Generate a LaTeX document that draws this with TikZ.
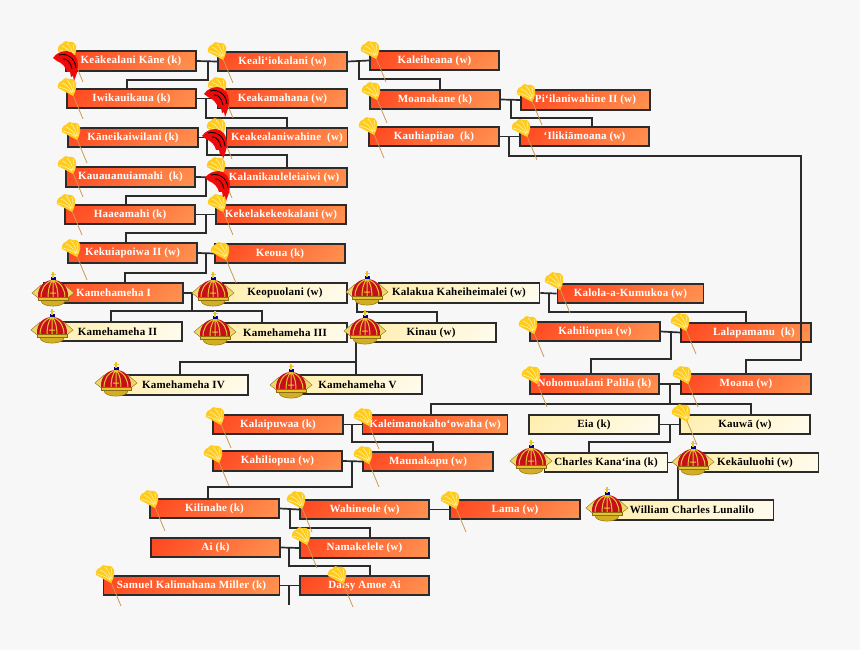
\documentclass[tikz,border=0pt]{standalone}
\usepackage{fontspec}
\setmainfont{Liberation Serif}
\newfontfamily\boxfont[LetterSpace=2]{Liberation Serif}
\usepackage{xcolor}
\definecolor{pagebg}{HTML}{F7F7F7}
\definecolor{linkdark}{HTML}{2B2B2B}
\definecolor{boxred}{HTML}{FF3414}
\definecolor{boxorange}{HTML}{FFA55C}
\definecolor{boxcream}{HTML}{FFEB9E}
\definecolor{feather}{HTML}{FFCB1E}
\definecolor{featherline}{HTML}{FFF0A0}
\definecolor{staff}{HTML}{C99A52}
\definecolor{helmetred}{HTML}{EE0A0A}
\definecolor{crowngold}{HTML}{E7C42C}
\definecolor{crowndark}{HTML}{8E6C10}
\definecolor{crownred}{HTML}{C5101C}
\pgfdeclareverticalshading{redfade}{100bp}{color(0bp)=(boxorange); color(100bp)=(boxred)}
\pgfdeclareverticalshading{creamfade}{100bp}{color(0bp)=(white); color(100bp)=(boxcream)}
\tikzset{
  person/.style={draw=linkdark, line width=1.7pt, minimum width=129.5pt, minimum height=19.5pt,
                 inner sep=0pt, font=\boxfont\fontsize{11}{12}\bfseries\selectfont},
  redbox/.style={person, shade, shading=redfade, shading angle=45, text=white},
  creambox/.style={person, shade, shading=creamfade, shading angle=45, text=black},
  link/.style={draw=linkdark, line width=1.7pt},
  kahili/.pic={
    \draw[staff, line width=0.8pt] (0,0) -- (10,24);
    \fill[feather] (0,1) -- (-15,-7) .. controls (-16,-11) and (-13,-14) .. (-11,-14)
      .. controls (-9,-17) and (-6,-18) .. (-4,-16) .. controls (-1,-17) and (2,-15) .. (3,-12)
      .. controls (4,-9) and (3,-6) .. (2,-3) -- cycle;
    \draw[featherline, line width=0.6pt] (-1,-2) .. controls (-6,-6) and (-10,-7) .. (-14,-8)
      (-1,-3) .. controls (-4,-8) and (-8,-11) .. (-11,-12)
      (0,-3) .. controls (-1,-8) and (-3,-12) .. (-6,-15)
      (1,-3) .. controls (1,-7) and (1,-10) .. (0,-14);
  },
  helmet/.pic={
    \fill[helmetred] (0,7) .. controls (3,2) and (9,0) .. (14,0) .. controls (21,1) and (25,7) .. (25,14)
      .. controls (25,20) and (23,25) .. (21,30) -- (20,25) -- (18,26) -- (17,21) -- (14,21)
      .. controls (13,16) and (9,12) .. (4,10) -- cycle;
    \draw[black, line width=0.8pt] (6,4) .. controls (13,2) and (22,6) .. (23,17)
      (10,8) .. controls (14,7) and (18,12) .. (19,18);
  },
  crown/.pic={
    \draw[crowndark, fill=crowngold!70!white, line width=0.4pt] (-21,0) -- (-12,-8) -- (12,-8) -- (21,0) -- (12,7) -- (-12,7) -- cycle;
    \fill[crownred] (-15,5) .. controls (-16,-8) and (-7,-13) .. (0,-13) .. controls (7,-13) and (16,-8) .. (15,5) -- cycle;
    \draw[crowngold, line width=1pt] (0,-13) -- (0,6)
      (0,-13) .. controls (-4,-9) and (-5,-2) .. (-5,6)
      (0,-13) .. controls (4,-9) and (5,-2) .. (5,6)
      (0,-13) .. controls (-9,-10) and (-12,-3) .. (-12,5)
      (0,-13) .. controls (9,-10) and (12,-3) .. (12,5)
      (-3,0) -- (3,0);
    \draw[crowndark, fill=crowngold, line width=0.4pt] (-15,4) rectangle (15,7.5);
    \draw[crowndark, fill=crowngold!75!crowndark, line width=0.4pt] (-12,7.5) .. controls (-12,15) and (12,15) .. (12,7.5) -- cycle;
    \fill[blue!60!black] (-2.5,-16) rectangle (2.5,-13);
    \draw[crowngold, line width=1.3pt] (0,-21) -- (0,-15) (-2.5,-18.5) -- (2.5,-18.5);
  }
}

\begin{document}
\begin{tikzpicture}[x=1pt, y=-1pt]
  \useasboundingbox (0,0) rectangle (860,650);
  \fill[pagebg] (0,0) rectangle (860,650);

  \node[redbox] (keakealani) at (131,61) {Keākealani Kāne (k)};
  \node[redbox] (kealii) at (282.5,61.5) {Keali‘iokalani (w)};
  \node[redbox] (kaleiheana) at (434.5,60.5) {Kaleiheana (w)};
  \node[redbox] (iwikauikaua) at (131.5,98.5) {Iwikauikaua (k)};
  \node[redbox] (keakamahana) at (282.5,98.5) {Keakamahana (w)};
  \node[redbox] (moanakane) at (435,99.5) {Moanakane (k)};
  \node[redbox] (piilani) at (585.5,100) {Pi‘ilaniwahine II (w)};
  \node[redbox] (kaneikai) at (133,137.5) {Kāneikaiwilani (k)};
  \node[redbox, minimum width=121pt] (keakealaniw) at (287,137.5) {Keakealaniwahine\ \ (w)};
  \node[redbox] (kauhiapiiao) at (434,136.5) {Kauhiapiiao\ \ (k)};
  \node[redbox] (ilikiamoana) at (584.5,136.5) {‘Ilikiāmoana (w)};
  \node[redbox] (kauauanui) at (130.5,177) {Kauauanuiamahi\ \ (k)};
  \node[redbox, minimum width=126pt] (kalanikau) at (284,177.5) {Kalanikauleleiaiwi (w)};
  \node[redbox] (haaeamahi) at (130,214.5) {Haaeamahi (k)};
  \node[redbox] (kekelake) at (281,214.5) {Kekelakekeokalani (w)};
  \node[redbox] (kekuiapoiwa) at (132.5,253) {Kekuiapoiwa II (w)};
  \node[redbox] (keoua) at (280,253.5) {Keoua (k)};

  \node[redbox, minimum width=139pt] (kamehameha1) at (113.5,293) {Kamehameha I};
  \node[creambox, minimum width=124pt] (keopuolani) at (285,293) {Keopuolani (w)};
  \node[creambox, minimum width=161pt] (kalakua) at (459,293) {Kalakua Kaheiheimalei (w)};
  \node[redbox, minimum width=146pt] (kalola) at (630.5,293.5) {Kalola-a-Kumukoa (w)};
  \node[creambox] (kamehameha2) at (117.5,331.5) {Kamehameha II};
  \node[creambox, minimum width=124pt] (kamehameha3) at (285,332.5) {Kamehameha III};
  \node[creambox] (kinau) at (431,332.5) {Kinau (w)};
  \node[redbox] (kahiliopua) at (595,331.5) {Kahiliopua (w)};
  \node[redbox] (lalapamanu) at (746,332.5) {\hspace*{16pt}Lalapamanu\ \ (k)};
  \node[creambox] (kamehameha4) at (183.5,385) {Kamehameha IV};
  \node[creambox] (kamehameha5) at (357.5,384.5) {Kamehameha V};
  \node[redbox] (nohomualani) at (594.5,384) {Nohomualani Palila (k)};
  \node[redbox] (moana) at (746,384) {Moana (w)};

  \node[redbox] (kalaipuwaa) at (278,424.5) {Kalaipuwaa (k)};
  \node[redbox, minimum width=145pt] (kaleimano) at (435,424.5) {Kaleimanokaho‘owaha (w)};
  \node[creambox] (eia) at (594,424.5) {Eia (k)};
  \node[creambox] (kauwa) at (745,424.5) {Kauwā (w)};
  \node[redbox] (kahiliopuab) at (277.5,461) {Kahiliopua (w)};
  \node[redbox] (maunakapu) at (428,461.5) {Maunakapu (w)};
  \node[creambox, minimum width=123pt] (charles) at (606,462.5) {Charles Kana‘ina (k)};
  \node[creambox, minimum width=127pt] (kekauluohi) at (755,462.5) {Kekāuluohi (w)};
  \node[redbox] (kilinahe) at (214.5,508.5) {Kilinahe (k)};
  \node[redbox] (wahineole) at (364.5,509.5) {Wahineole (w)};
  \node[redbox] (lama) at (515,509.5) {Lama (w)};
  \node[creambox, minimum width=163pt] (william) at (692,510) {William Charles Lunalilo};
  \node[redbox] (ai) at (215.5,547.5) {Ai (k)};
  \node[redbox] (namakelele) at (364.5,548) {Namakelele (w)};
  \node[redbox, minimum width=176pt] (samuel) at (191.5,585.5) {Samuel Kalimahana Miller (k)};
  \node[redbox] (daisy) at (364.5,585.5) {Daisy Amoe Ai};

  \draw[link] (keakealani.east) -- (kealii.west);
  \draw[link] (208,0 |- keakealani.east) -- (208,80) -| (127,0 |- iwikauikaua.north);
  \draw[link] (kealii.east) -- (kaleiheana.west);
  \draw[link] (359,0 |- kealii.east) -- (359,79) -| (440,0 |- moanakane.north);
  \draw[link] (iwikauikaua.east) -- (keakamahana.west);
  \draw[link] (206,0 |- iwikauikaua.east) -- (206,118) -| (287,0 |- keakealaniw.north);
  \draw[link] (moanakane.east) -- (piilani.west);
  \draw[link] (511,0 |- moanakane.east) -- (511,118) -| (592,0 |- ilikiamoana.north);
  \draw[link] (kaneikai.east) -- (keakealaniw.west);
  \draw[link] (207,0 |- kaneikai.east) -- (207,155) -| (287,0 |- kalanikau.north);
  \draw[link] (kauhiapiiao.east) -- (ilikiamoana.west);
  \draw[link] (509,0 |- kauhiapiiao.east) -- (509,156) -- (801,156) -- (801,360) -| (746,0 |- moana.north);
  \draw[link] (kauauanui.east) -- (kalanikau.west);
  \draw[link] (206,0 |- kauauanui.east) -- (206,196) -| (126,0 |- haaeamahi.north);
  \draw[link] (haaeamahi.east) -- (kekelake.west);
  \draw[link] (206,0 |- haaeamahi.east) -- (206,233) -| (126,0 |- kekuiapoiwa.north);
  \draw[link] (kekuiapoiwa.east) -- (keoua.west);
  \draw[link] (206,0 |- kekuiapoiwa.east) -- (206,273) -| (125,0 |- kamehameha1.north);
  \draw[link] (kamehameha1.east) -- (keopuolani.west);
  \draw[link] (192,0 |- kamehameha1.east) -- (192,311);
  \draw[link] (111,0 |- kamehameha2.north) |- (262,311) -- (262,0 |- kamehameha3.north);
  \draw[link] (keopuolani.east) -- (kalakua.west);
  \draw[link] (357,0 |- keopuolani.east) -- (357,312) -| (437,0 |- kinau.north);
  \draw[link] (kamehameha3.east) -- (kinau.west);
  \draw[link] (356,0 |- kamehameha3.east) -- (356,0 |- kamehameha5.north);
  \draw[link] (356,362) -| (180,0 |- kamehameha4.north);
  \draw[link] (kalakua.east) -- (kalola.west);
  \draw[link] (549,0 |- kalakua.east) -- (549,312) -| (746,0 |- lalapamanu.north);
  \draw[link] (kahiliopua.east) -- (lalapamanu.west);
  \draw[link] (671,0 |- kahiliopua.east) -- (671,359) -| (591,0 |- nohomualani.north);
  \draw[link] (nohomualani.east) -- (moana.west);
  \draw[link] (670,0 |- nohomualani.east) -- (670,404);
  \draw[link] (431,0 |- kaleimano.north) |- (751,404) -- (751,0 |- kauwa.north);
  \draw[link] (eia.east) -- (kauwa.west);
  \draw[link] (670,0 |- eia.east) -- (670,442) -| (589,0 |- charles.north);
  \draw[link] (charles.east) -- (kekauluohi.west);
  \draw[link] (678,0 |- charles.east) -- (678,0 |- william.north);
  \draw[link] (kalaipuwaa.east) -- (kaleimano.west);
  \draw[link] (352,0 |- kalaipuwaa.east) -- (352,442) -| (433,0 |- maunakapu.north);
  \draw[link] (kahiliopuab.east) -- (maunakapu.west);
  \draw[link] (352,0 |- kahiliopuab.east) -- (352,487) -| (208,0 |- kilinahe.north);
  \draw[link] (kilinahe.east) -- (wahineole.west);
  \draw[link] (290,0 |- kilinahe.east) -- (290,528) -| (370,0 |- namakelele.north);
  \draw[link] (wahineole.east) -- (lama.west);
  \draw[link] (ai.east) -- (namakelele.west);
  \draw[link] (289,0 |- ai.east) -- (289,566) -| (370,0 |- daisy.north);
  \draw[link] (samuel.east) -- (daisy.west);
  \draw[link] (289,0 |- samuel.east) -- (289,605);

  \foreach \kx/\ky in {73/58, 73/95, 77/139, 73/173, 72/211, 77/256, 223/59, 223/94, 222/135, 222/174,
      223/211, 226/259, 376/58, 377/99, 374/134, 532/101, 527/136, 560/289, 534/333, 686/330,
      537/383, 688/383, 687/421, 221/424, 369/425, 219/462, 369/463, 155/507, 302/508, 456/508,
      307/544, 111/582, 343/583}
    \pic at (\kx,\ky) {kahili};
  \foreach \hx/\hy in {53/51, 204/87, 202/129, 205/171}
    \pic at (\hx,\hy) {helmet};
  \foreach \cx/\cy in {53/293, 213/293, 52/330, 215/332, 116/383, 291/385, 367/292, 365/331,
      531/461, 693/462, 607/508}
    \pic at (\cx,\cy) {crown};
\end{tikzpicture}
\end{document}
